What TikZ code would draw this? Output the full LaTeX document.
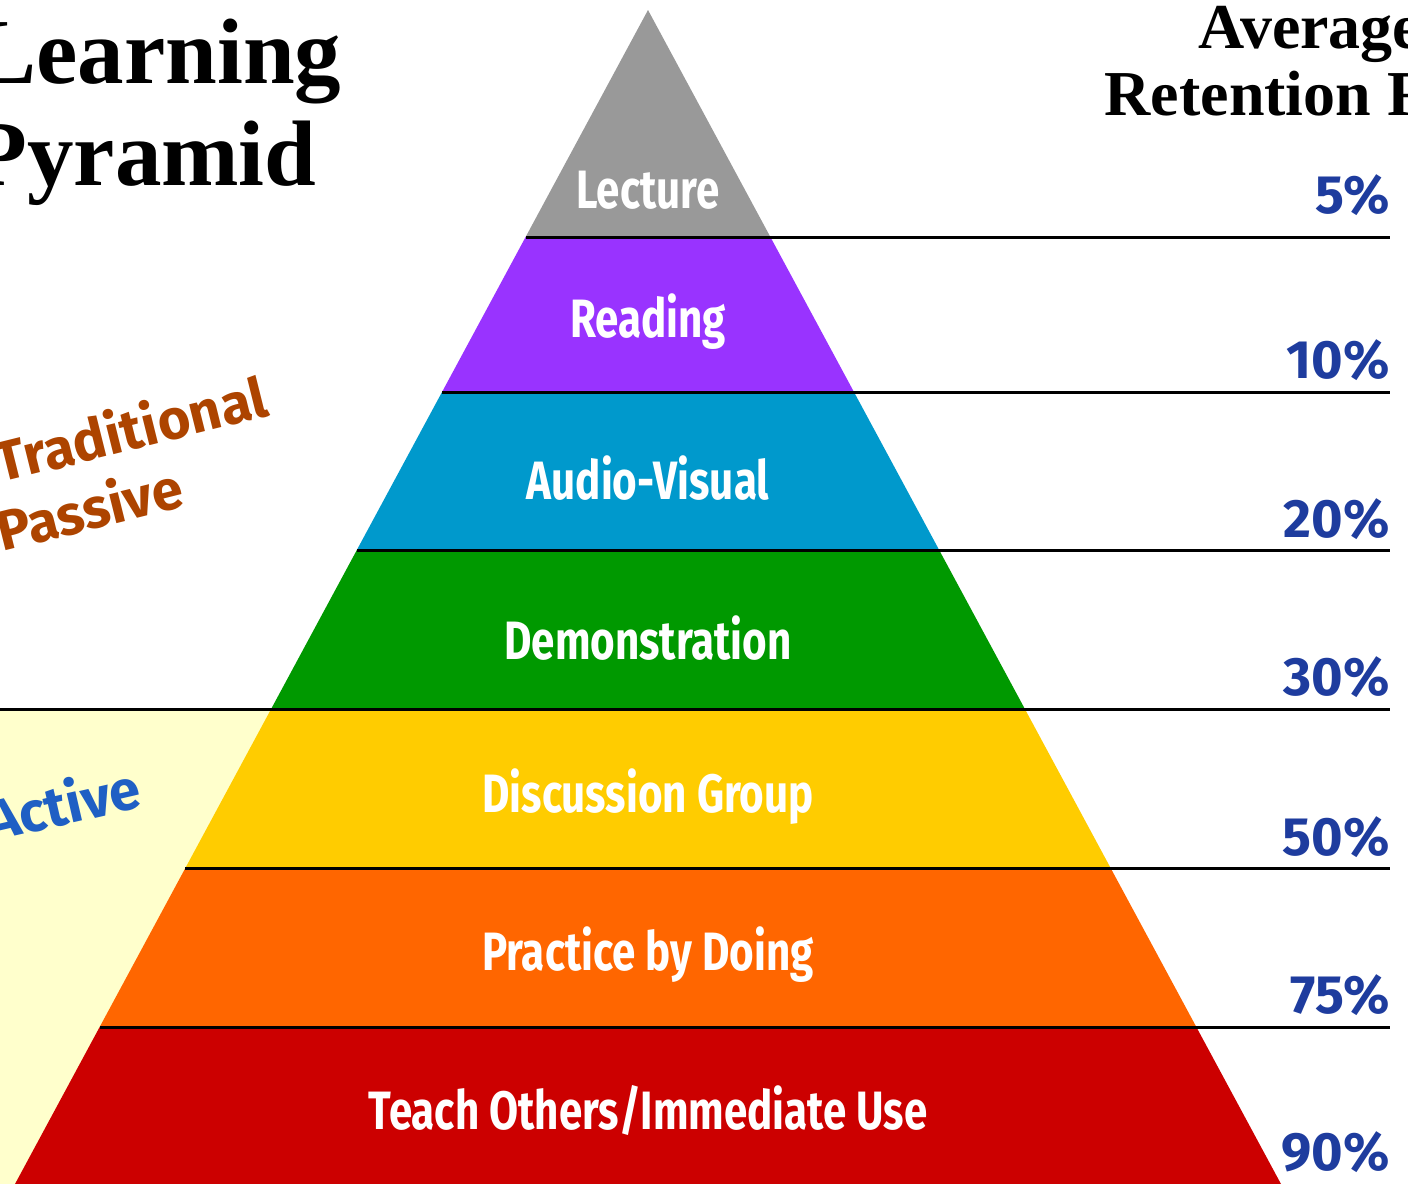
\documentclass[tikz,border=0pt]{standalone}
\usepackage{fontspec}
\setmainfont{Liberation Serif}
\newfontfamily\bandfont{Fira Sans}[FakeStretch=0.78]
\newfontfamily\sidefont{Fira Sans}
\usetikzlibrary{calc}
\definecolor{lecgray}{HTML}{999999}
\definecolor{readpurple}{HTML}{9933FF}
\definecolor{avblue}{HTML}{0099CC}
\definecolor{demogreen}{HTML}{009900}
\definecolor{discyellow}{HTML}{FFCC00}
\definecolor{pracorange}{HTML}{FF6600}
\definecolor{teachred}{HTML}{CC0000}
\definecolor{activebg}{HTML}{FFFFCC}
\definecolor{passbrown}{HTML}{AD4400}
\definecolor{actblue}{HTML}{1F5FC4}
\definecolor{pctblue}{HTML}{1E3C9E}
\def\pctnode{\node[pct]}
\def\bandnode{\node[band]}

\begin{document}
\begin{tikzpicture}[x=0.5pt,y=-0.5pt,inner sep=0pt,
  band/.style={text=white,font=\bandfont\bfseries\fontsize{27}{30}\selectfont},
  pct/.style={anchor=base east,text=pctblue,font=\sidefont\bfseries\fontsize{27}{30}\selectfont},
  side/.style={anchor=base west,font=\sidefont\bfseries\fontsize{28}{32}\selectfont},
  title/.style={anchor=base west,font=\bfseries\fontsize{46.5}{51}\selectfont},
  head/.style={anchor=base,font=\bfseries\fontsize{32}{36}\selectfont},
  rule/.style={line width=1.5pt}]
\useasboundingbox (0,0) rectangle (1408,1184);
\coordinate (apex) at (648,10);
\coordinate (bl) at (15,1184);
\coordinate (br) at (1281,1184);
% pale zone for the active methods
\fill[activebg] (0,709) rectangle (648,1184);
% the bands
\begin{scope}
\clip (apex) -- (bl) -- (br) -- cycle;
\foreach \ytop/\ybot/\col in {0/237/lecgray,237/392/readpurple,392/550/avblue,
  550/709/demogreen,709/868/discyellow,868/1027/pracorange,1027/1184/teachred}
  \fill[\col] (0,\ytop) rectangle (1408,\ybot);
\end{scope}
% dividing lines
\foreach \y in {237,392,550,868,1027}{
  \pgfmathsetmacro\xl{648-0.5392*(\y-10)}
  \draw[rule] (\xl,\y) -- (1390,\y);
}
\draw[rule] (0,709) -- (1390,709);
% band labels
\bandnode (lecture) at (648,190) {Lecture};
\bandnode (reading) at (648,322) {Reading};
\bandnode (audio) at (648,478) {Audio-Visual};
\bandnode (demo) at (648,638) {Demonstration};
\bandnode (disc) at (648,797) {Discussion Group};
\bandnode (practice) at (648,955) {Practice by Doing};
\bandnode (teach) at (648,1110) {Teach Others/Immediate Use};
% retention rates
\pctnode (p5) at (1390,213) {5\%};
\pctnode (p10) at (1390,378) {10\%};
\pctnode (p20) at (1390,537) {20\%};
\pctnode (p30) at (1390,695) {30\%};
\pctnode (p50) at (1390,855) {50\%};
\pctnode (p75) at (1390,1013) {75\%};
\pctnode (p90) at (1390,1170) {90\%};
% headings
\node[title] (learning) at (-26,83) {Learning};
\node[title] (pyramid) at (-30,185) {Pyramid};
\node[head] (average) at (1310,48) {Average};
\node[head] (retention) at (1310,115) {Retention Rate};
% side labels
\node[side,text=passbrown,rotate=14] (trad) at (0,483) {Traditional};
\node[side,text=passbrown,rotate=14] (passive) at (2,552) {Passive};
\node[side,text=actblue,rotate=13] (active) at (-9,842) {Active};
\end{tikzpicture}
\end{document}
